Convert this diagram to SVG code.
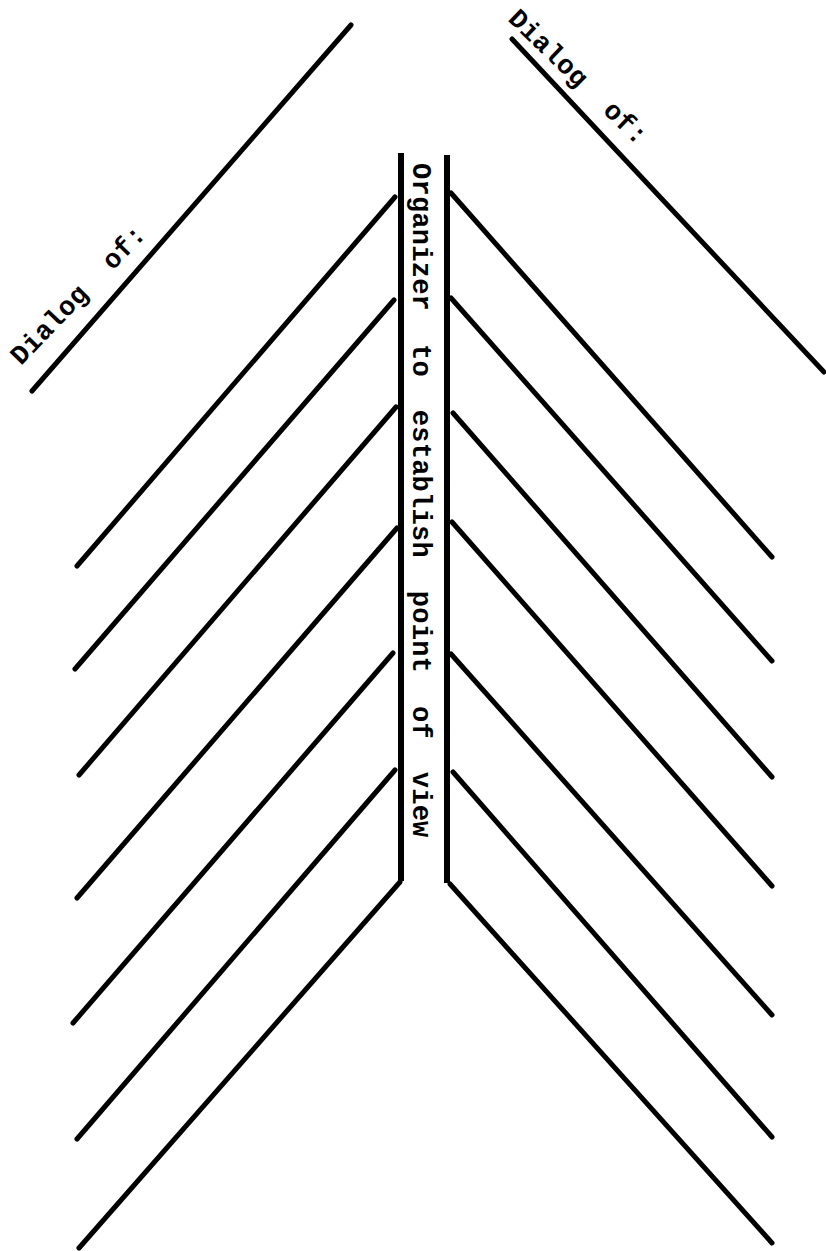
<svg xmlns="http://www.w3.org/2000/svg" width="826" height="1251" viewBox="0 0 826 1251">
<style>
.ln{stroke:#000;stroke-width:5;stroke-linecap:round;fill:none}
.bar{stroke:#000;stroke-width:6;fill:none}
.t{font-family:"Liberation Mono","Courier New",monospace;font-weight:bold;font-size:27px;fill:#000;white-space:pre}
</style>
<rect width="826" height="1251" fill="#fff"/>
<g id="spine">
<line class="bar" x1="401" y1="153" x2="401" y2="881"/>
<line class="bar" x1="447" y1="155" x2="447" y2="883"/>
<text class="t" transform="translate(413,163) rotate(90)" xml:space="preserve" letter-spacing="0.25">Organizer  to  establish  point  of  view</text>
</g>
<g id="dialog-left">
<line class="ln" x1="351" y1="25" x2="32" y2="391"/>
<text class="t" transform="translate(21,366) rotate(-46)" xml:space="preserve" letter-spacing="0.3">Dialog  of:</text>
</g>
<g id="dialog-right">
<line class="ln" x1="512" y1="39" x2="824" y2="372"/>
<text class="t" transform="translate(507,20) rotate(44)" xml:space="preserve" letter-spacing="0.3">Dialog  of:</text>
</g>
<g id="connectors">
<line class="ln" x1="395" y1="197" x2="77" y2="566"/>
<line class="ln" x1="394" y1="300" x2="75" y2="669"/>
<line class="ln" x1="396" y1="407" x2="79" y2="775"/>
<line class="ln" x1="397" y1="528" x2="77" y2="898"/>
<line class="ln" x1="393" y1="653" x2="73" y2="1023"/>
<line class="ln" x1="395" y1="770" x2="77" y2="1139"/>
<line class="ln" x1="400" y1="882" x2="79" y2="1248"/>
<line class="ln" x1="451" y1="193" x2="772" y2="557"/>
<line class="ln" x1="451" y1="298" x2="772" y2="661"/>
<line class="ln" x1="453" y1="413" x2="772" y2="777"/>
<line class="ln" x1="452" y1="522" x2="772" y2="886"/>
<line class="ln" x1="451" y1="654" x2="772" y2="1015"/>
<line class="ln" x1="453" y1="772" x2="772" y2="1137"/>
<line class="ln" x1="450" y1="884" x2="772" y2="1243"/>
</g>
</svg>
